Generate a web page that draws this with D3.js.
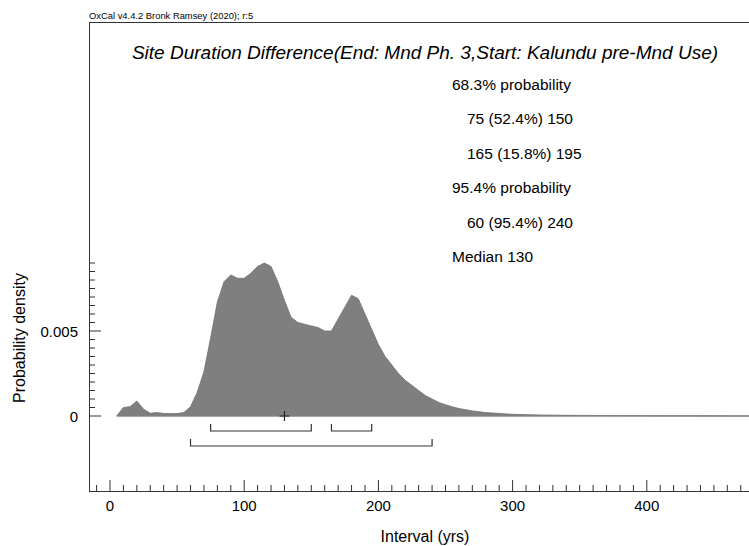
<!DOCTYPE html>
<html><head><meta charset="utf-8">
<script src="https://cdn.jsdelivr.net/npm/d3@7"></script>
<style>body{margin:0;background:#fff}svg{display:block}text{font-family:"Liberation Sans",Arial,sans-serif}</style>
</head><body><svg id="c" width="749" height="546"></svg>
<script>
const header = "OxCal v4.4.2 Bronk Ramsey (2020); r:5";
const title = "Site Duration Difference(End: Mnd Ph. 3,Start: Kalundu pre-Mnd Use)";
const summaryLines = ["68.3% probability", "75 (52.4%) 150", "165 (15.8%) 195", "95.4% probability", "60 (95.4%) 240", "Median 130"];
const summaryIndent = [0, 1, 1, 0, 1, 0];
const xTicks = [0, 100, 200, 300, 400];
const yTicks = [0, 0.005];
const yTickLabels = ["0", "0.005"];
const intervals = [5,10,15,20,25,30,35,40,45,50,55,60,65,70,75,80,85,90,95,100,105,110,115,120,125,130,135,140,145,150,155,160,165,170,175,180,185,190,195,200,205,210,215,220,225,230,235,240,245,250,255,260,270,280,290,300,320,340,360,400,450,490];
const density = [0,0.0005,0.00055,0.00088,0.0004,0.00016,0.0002,0.00015,0.00014,0.00014,0.0002,0.00055,0.0014,0.0026,0.0046,0.0067,0.0079,0.0083,0.0081,0.0081,0.0084,0.0088,0.0090,0.0088,0.0079,0.0068,0.0058,0.0055,0.0054,0.0053,0.0052,0.0050,0.0050,0.0057,0.0064,0.0071,0.0069,0.0060,0.0051,0.0042,0.0035,0.0030,0.0025,0.0021,0.0018,0.0015,0.0012,0.0010,0.0008,0.00066,0.00054,0.00044,0.0003,0.0002,0.00015,0.0001,0.00006,0.00004,0.00003,0.000015,0.000008,0];
const ranges68 = [[75,150],[165,195]];
const ranges95 = [[60,240]];
const median = 130;

const svg = d3.select("#c");
const x = d3.scaleLinear().domain([0, 100]).range([110, 244.2]);
const y = d3.scaleLinear().domain([0, 0.005]).range([416, 331]);
const axisCol = "#333";

// header
svg.append("text").attr("x", 89).attr("y", 19).attr("font-size", 9.4).text(header);
// frame
svg.append("line").attr("x1", 89).attr("x2", 749).attr("y1", 22.5).attr("y2", 22.5).attr("stroke", axisCol);
svg.append("line").attr("x1", 89.5).attr("x2", 89.5).attr("y1", 22).attr("y2", 491).attr("stroke", axisCol);
svg.append("line").attr("x1", 89).attr("x2", 749).attr("y1", 491.5).attr("y2", 491.5).attr("stroke", axisCol);

// title
svg.append("text").attr("x", 425).attr("y", 59).attr("font-size", 19).attr("font-style", "italic")
  .attr("text-anchor", "middle").text(title);

// summary
svg.append("g").selectAll("text").data(summaryLines).join("text")
  .attr("x", (d, i) => 452 + summaryIndent[i] * 15).attr("y", (d, i) => 89.5 + i * 34.5)
  .attr("font-size", 15.5).text(d => d);

// density area
const area = d3.area().x((d, i) => x(intervals[i])).y0(y(0)).y1(d => y(d));
svg.append("path").datum(density).attr("d", area).attr("fill", "#7f7f7f").attr("stroke", "#6e6e6e").attr("stroke-width", 0.8);
svg.append("line").attr("x1", x(intervals[0])).attr("x2", 749).attr("y1", y(0)).attr("y2", y(0)).attr("stroke", "#888");

// ranges
function bracket(r, yy) {
  svg.append("path").attr("d", `M${x(r[0])},${yy - 7}V${yy}H${x(r[1])}V${yy - 7}`)
    .attr("fill", "none").attr("stroke", axisCol).attr("stroke-width", 1.2);
}
ranges68.forEach(r => bracket(r, 431));
ranges95.forEach(r => bracket(r, 446));
// median cross
svg.append("path").attr("d", `M${x(median) - 5},${y(0)}H${x(median) + 5}M${x(median)},${y(0) - 5}V${y(0) + 5}`)
  .attr("stroke", "#222").attr("stroke-width", 1.2);

// x axis ticks
const xMinor = d3.range(-10, 480, 10);
svg.append("g").selectAll("line").data(xMinor).join("line")
  .attr("x1", d => x(d)).attr("x2", d => x(d)).attr("y1", 491).attr("y2", d => d % 100 === 0 ? 480 : 485)
  .attr("stroke", axisCol);
svg.append("g").selectAll("text").data(xTicks).join("text")
  .attr("x", d => x(d)).attr("y", 511).attr("font-size", 15).attr("text-anchor", "middle").text(d => d);
svg.append("text").attr("x", 425).attr("y", 542).attr("font-size", 16).attr("text-anchor", "middle").text("Interval (yrs)");

// y axis ticks
const yMinor = d3.range(0, 19).map(i => i * 0.0005);
svg.append("g").selectAll("line").data(yMinor).join("line")
  .attr("x1", 89).attr("x2", (d, i) => i % 10 === 0 ? 101 : 95).attr("y1", d => y(d)).attr("y2", d => y(d))
  .attr("stroke", axisCol);
svg.append("g").selectAll("text").data(yTicks).join("text")
  .attr("x", 78).attr("y", d => y(d) + 5.5).attr("font-size", 15).attr("text-anchor", "end").text((d, i) => yTickLabels[i]);
svg.append("text").attr("transform", "translate(25,338) rotate(-90)").attr("font-size", 16)
  .attr("text-anchor", "middle").text("Probability density");
</script></body></html>
